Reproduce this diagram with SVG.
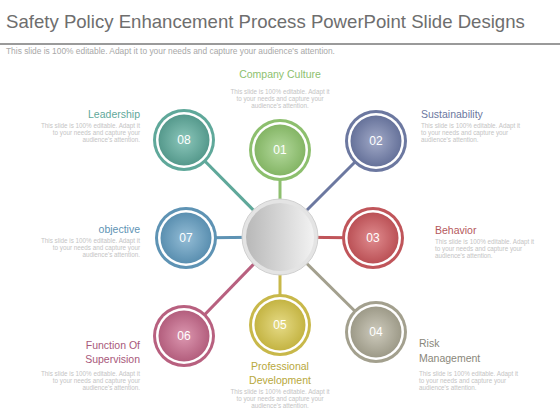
<svg xmlns="http://www.w3.org/2000/svg" width="560" height="420" viewBox="0 0 560 420">
<defs>
<style>
text{font-family:"Liberation Sans",Arial,sans-serif}
.title{font-size:18.6px;fill:#6e6e6e}
.sub{font-size:8.4px;fill:#a8a8a8}
.lbl{font-size:10.5px}
.desc{font-size:6.3px;fill:#c4c4c4}
.num{font-size:12px;fill:#ffffff;text-anchor:middle}
.r{text-anchor:end}
.m{text-anchor:middle}
.conn line{stroke-width:3}
</style>
<radialGradient id="g08"><stop offset="0" stop-color="#8cc7bb"/><stop offset="1" stop-color="#55998c"/></radialGradient>
<radialGradient id="g01"><stop offset="0" stop-color="#b3d99c"/><stop offset="1" stop-color="#84b565"/></radialGradient>
<radialGradient id="g02"><stop offset="0" stop-color="#a2aac8"/><stop offset="1" stop-color="#66729a"/></radialGradient>
<radialGradient id="g07"><stop offset="0" stop-color="#94bdd6"/><stop offset="1" stop-color="#5a8fb0"/></radialGradient>
<radialGradient id="g03"><stop offset="0" stop-color="#e08c8f"/><stop offset="1" stop-color="#bb5156"/></radialGradient>
<radialGradient id="g06"><stop offset="0" stop-color="#dc97b0"/><stop offset="1" stop-color="#b35e7d"/></radialGradient>
<radialGradient id="g05"><stop offset="0" stop-color="#e6db86"/><stop offset="1" stop-color="#c4b443"/></radialGradient>
<radialGradient id="g04"><stop offset="0" stop-color="#cecbbd"/><stop offset="1" stop-color="#9d9a88"/></radialGradient>
<linearGradient id="gc" x1="0" y1="0" x2="1" y2="0"><stop offset="0" stop-color="#b8b8b8"/><stop offset="1" stop-color="#f2f2f2"/></linearGradient>
</defs>
<rect width="560" height="420" fill="#ffffff"/>
<text class="title" x="6" y="28">Safety Policy Enhancement Process PowerPoint Slide Designs</text>
<rect x="0" y="43" width="560" height="2" fill="#9a9a9a"/>
<text class="sub" x="6" y="54">This slide is 100% editable. Adapt it to your needs and capture your audience's attention.</text>

<g class="conn" id="connectors">
<line x1="280" y1="237" x2="184" y2="140" stroke="#5fa89a"/>
<line x1="280" y1="237" x2="280" y2="150" stroke="#8dbf6e"/>
<line x1="280" y1="237" x2="376" y2="141" stroke="#6c78a0"/>
<line x1="280" y1="237" x2="186" y2="238" stroke="#5e93b4"/>
<line x1="280" y1="237" x2="373" y2="238" stroke="#c0555a"/>
<line x1="280" y1="237" x2="184" y2="336" stroke="#b8607f"/>
<line x1="280" y1="237" x2="280" y2="325" stroke="#c8b84a"/>
<line x1="280" y1="237" x2="376" y2="332" stroke="#a3a08e"/>
</g>

<g id="center">
<circle cx="280" cy="237" r="38" fill="#e4e4e4" stroke="#d0d0d0" stroke-width="1"/>
<circle cx="280" cy="237" r="34" fill="url(#gc)"/>
</g>

<g id="n08">
<circle cx="184" cy="140" r="31" fill="#5fa89a"/>
<circle cx="184" cy="140" r="28" fill="#ffffff"/>
<circle cx="184" cy="140" r="25.5" fill="url(#g08)"/>
<text class="num" x="184" y="144">08</text>
<text class="lbl r" x="140" y="118" fill="#5fa89a">Leadership</text>
<text class="desc r" x="140" y="128">This slide is 100% editable. Adapt it</text>
<text class="desc r" x="140" y="135">to your needs and capture your</text>
<text class="desc r" x="140" y="142">audience's attention.</text>
</g>

<g id="n01">
<circle cx="280" cy="150" r="31" fill="#8dbf6e"/>
<circle cx="280" cy="150" r="28" fill="#ffffff"/>
<circle cx="280" cy="150" r="25.5" fill="url(#g01)"/>
<text class="num" x="280" y="154">01</text>
<text class="lbl m" x="280" y="78" fill="#8dbf6e">Company Culture</text>
<text class="desc m" x="280" y="94">This slide is 100% editable. Adapt it</text>
<text class="desc m" x="280" y="101">to your needs and capture your</text>
<text class="desc m" x="280" y="108">audience's attention.</text>
</g>

<g id="n02">
<circle cx="376" cy="141" r="31" fill="#6c78a0"/>
<circle cx="376" cy="141" r="28" fill="#ffffff"/>
<circle cx="376" cy="141" r="25.5" fill="url(#g02)"/>
<text class="num" x="376" y="145">02</text>
<text class="lbl" x="421" y="118" fill="#6c78a0">Sustainability</text>
<text class="desc" x="421" y="128">This slide is 100% editable. Adapt it</text>
<text class="desc" x="421" y="135">to your needs and capture your</text>
<text class="desc" x="421" y="142">audience's attention.</text>
</g>

<g id="n07">
<circle cx="186" cy="238" r="31" fill="#5e93b4"/>
<circle cx="186" cy="238" r="28" fill="#ffffff"/>
<circle cx="186" cy="238" r="25.5" fill="url(#g07)"/>
<text class="num" x="186" y="242">07</text>
<text class="lbl r" x="140" y="233" fill="#5e93b4">objective</text>
<text class="desc r" x="140" y="243">This slide is 100% editable. Adapt it</text>
<text class="desc r" x="140" y="250">to your needs and capture your</text>
<text class="desc r" x="140" y="257">audience's attention.</text>
</g>

<g id="n03">
<circle cx="373" cy="238" r="31" fill="#c0555a"/>
<circle cx="373" cy="238" r="28" fill="#ffffff"/>
<circle cx="373" cy="238" r="25.5" fill="url(#g03)"/>
<text class="num" x="373" y="242">03</text>
<text class="lbl" x="435" y="234" fill="#b5585c">Behavior</text>
<text class="desc" x="435" y="244">This slide is 100% editable. Adapt it</text>
<text class="desc" x="435" y="251">to your needs and capture your</text>
<text class="desc" x="435" y="258">audience's attention.</text>
</g>

<g id="n06">
<circle cx="184" cy="336" r="31" fill="#b8607f"/>
<circle cx="184" cy="336" r="28" fill="#ffffff"/>
<circle cx="184" cy="336" r="25.5" fill="url(#g06)"/>
<text class="num" x="184" y="340">06</text>
<text class="lbl r" x="140" y="349" fill="#a8587a">Function Of</text>
<text class="lbl r" x="140" y="363" fill="#a8587a">Supervision</text>
<text class="desc r" x="140" y="376">This slide is 100% editable. Adapt it</text>
<text class="desc r" x="140" y="383">to your needs and capture your</text>
<text class="desc r" x="140" y="390">audience's attention.</text>
</g>

<g id="n05">
<circle cx="280" cy="325" r="31" fill="#c8b84a"/>
<circle cx="280" cy="325" r="28" fill="#ffffff"/>
<circle cx="280" cy="325" r="25.5" fill="url(#g05)"/>
<text class="num" x="280" y="329">05</text>
<text class="lbl m" x="280" y="370" fill="#b8a83c">Professional</text>
<text class="lbl m" x="280" y="384" fill="#b8a83c">Development</text>
<text class="desc m" x="280" y="394">This slide is 100% editable. Adapt it</text>
<text class="desc m" x="280" y="401">to your needs and capture your</text>
<text class="desc m" x="280" y="408">audience's attention.</text>
</g>

<g id="n04">
<circle cx="376" cy="332" r="31" fill="#a3a08e"/>
<circle cx="376" cy="332" r="28" fill="#ffffff"/>
<circle cx="376" cy="332" r="25.5" fill="url(#g04)"/>
<text class="num" x="376" y="336">04</text>
<text class="lbl" x="419" y="347" fill="#8a877a">Risk</text>
<text class="lbl" x="419" y="362" fill="#8a877a">Management</text>
<text class="desc" x="419" y="376">This slide is 100% editable. Adapt it</text>
<text class="desc" x="419" y="383">to your needs and capture your</text>
<text class="desc" x="419" y="390">audience's attention.</text>
</g>
</svg>
